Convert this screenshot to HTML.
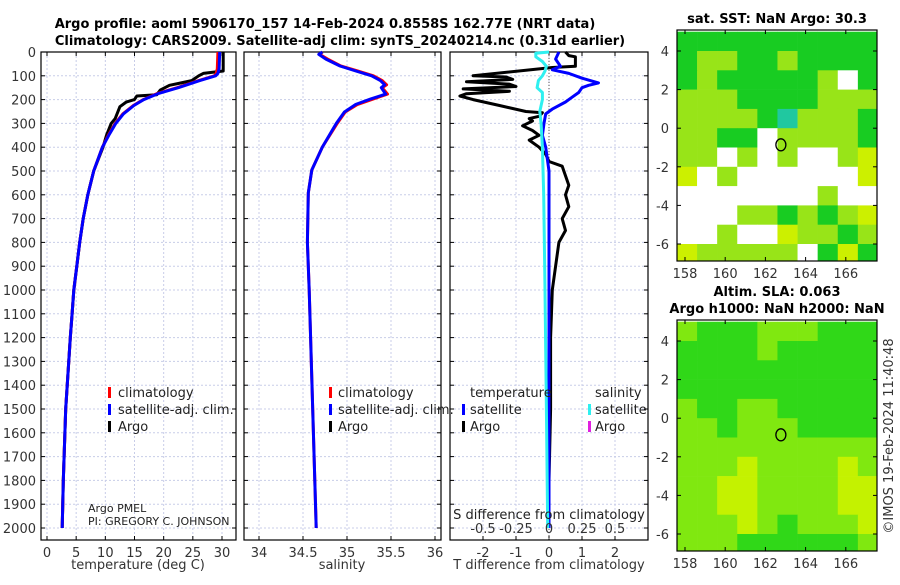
<!DOCTYPE html>
<html><head><meta charset="utf-8"><style>
body{margin:0;background:#fff;}
svg{font-family:"DejaVu Sans","Liberation Sans",sans-serif;}
</style></head><body>
<svg id="c" width="900" height="580" viewBox="0 0 900 580" xmlns="http://www.w3.org/2000/svg">
<text x="325" y="28" text-anchor="middle" font-size="13" font-weight="bold">Argo profile: aoml 5906170_157 14-Feb-2024 0.8558S 162.77E (NRT data)</text>
<text x="340" y="45" text-anchor="middle" font-size="13" font-weight="bold">Climatology: CARS2009. Satellite-adj clim: synTS_20240214.nc (0.31d earlier)</text>
<text x="777" y="23" text-anchor="middle" font-size="13" font-weight="bold">sat. SST: NaN Argo: 30.3</text>
<text x="777" y="296" text-anchor="middle" font-size="13" font-weight="bold">Altim. SLA: 0.063</text>
<text x="777" y="313" text-anchor="middle" font-size="13" font-weight="bold">Argo h1000: NaN h2000: NaN</text>
<text transform="translate(893,436) rotate(-90)" text-anchor="middle" font-size="13" fill="#333">©IMOS 19-Feb-2024 11:40:48</text>
</svg>
<script>
// ---------- data ----------
const depthTicks=[0,100,200,300,400,500,600,700,800,900,1000,1100,1200,1300,1400,1500,1600,1700,1800,1900,2000];
const tempTicks=[0,5,10,15,20,25,30];
const salTicks=[34,34.5,35,35.5,36];
const tdiffTicks=[-2,-1,0,1,2];
const sdiffTicks=[-0.5,-0.25,0,0.25,0.5];
const sdiffLabels=["-0.5","-0.25","0","0.25","0.5"];
const lonTicks=[158,160,162,164,166];
const latTicks=[4,2,0,-2,-4,-6];

const argoTD=[0,80,90,100,120,130,140,160,180,185,200,210,230,280,300,350,400,500,600,700,800,900,1000,1100,1200,1500,1800,2000];
const argoT=[30.2,30.2,26.8,26,24.8,23,21,19.4,18.8,15.4,15,13.6,12.5,11.7,11,10.2,9.6,8,7,6.2,5.6,5.1,4.6,4.3,4.0,3.2,2.8,2.6];
const climD=[0,70,90,100,120,150,175,200,225,260,300,350,400,500,600,700,800,900,1000,1100,1200,1500,1800,2000];
const climT=[29.3,29.2,29.0,28.7,26,22.3,18.8,16.5,14.8,13,11.7,10.5,9.5,8,7,6.2,5.6,5.1,4.6,4.3,4.0,3.2,2.8,2.6];
const satT=[29.6,29.5,29.3,28.9,26.2,22.5,19.0,16.6,14.9,13.1,11.8,10.6,9.5,8,7,6.2,5.6,5.1,4.6,4.3,4.0,3.2,2.8,2.6];
const salD=[0,10,30,59,80,100,120,138,150,177,197,220,252,299,399,496,592,800,1000,1500,2000];
const climS=[34.72,34.69,34.78,34.93,35.12,35.3,35.4,35.45,35.4,35.46,35.3,35.12,34.98,34.89,34.72,34.6,34.56,34.55,34.57,34.61,34.65];
const satS=[34.72,34.68,34.76,34.92,35.1,35.28,35.38,35.43,35.39,35.44,35.27,35.1,34.97,34.88,34.72,34.6,34.56,34.55,34.57,34.61,34.65];
const satTdD=[0,30,60,75,90,110,130,140,150,170,190,210,240,260,300,350,400,500,700,1000,1500,2000];
const satTd=[0.3,0.2,0.35,0.1,0.6,1.0,1.5,1.2,1.0,0.9,0.7,0.5,0.1,-0.1,-0.15,-0.2,-0.1,0.0,0.0,0.0,0.0,0.0];
const argoTdD=[0,15,20,60,65,100,105,115,125,135,145,155,165,175,185,200,225,250,255,270,280,290,310,330,350,370,400,430,460,480,520,560,600,650,700,750,800,900,1000,1200,1500,1800,2000];
const argoTd=[0.5,0.6,0.8,0.8,0.1,-2.3,-1.3,-1.1,-2.5,-1.2,-1.0,-2.6,-1.2,-2.5,-2.7,-2.3,-1.5,-0.7,-0.2,-0.3,-0.6,-0.5,-0.8,-0.5,-0.3,-0.6,-0.3,-0.1,0.0,0.4,0.5,0.6,0.5,0.6,0.4,0.5,0.3,0.2,0.1,0.05,0.05,0.0,0.0];
const satSdD=[0,5,20,40,60,80,100,120,150,170,200,250,300,400,600,1000,1500,2000];
const satSd=[0.0,-0.1,-0.1,-0.05,-0.02,-0.03,-0.05,-0.08,-0.09,-0.05,-0.05,-0.07,-0.06,-0.05,-0.04,-0.03,-0.02,-0.01];

const sstGrid=["gggggggggg","gllgglgggg","glggggglwg","lllgggglll","llllgtlllg","llggwllllg","llwlwlwwly","ywlwwwwwwy","wwwwwwwlww","wwwllglgly","wwlwwyllgl","ylllllwgyg"];
const slaGrid=["lggglllggg","gggglggggg","gggggggggg","gggggggggg","lggllggggg","llglllgggg","llllllllll","lllyllllyl","llyyllllyy","llyyllllyy","lllylgllly","lllggggggl"];

// ---------- helpers ----------
const svg=document.getElementById('c');
const NS="http://www.w3.org/2000/svg";
function mk(tag,attrs,parent){const e=document.createElementNS(NS,tag);for(const k in attrs)e.setAttribute(k,attrs[k]);(parent||svg).appendChild(e);return e;}
const Y0=52,Y1=540;
function yD(d){return Y0+d*(528-52)/2000;}
function panel(name,x0,x1,xs,ticks,labels){
  const g=mk('g',{});
  
  
  ticks.forEach((t,i)=>{const x=xs(t);
    const l=mk('line',{x1:x,x2:x,y1:Y0,y2:Y1,stroke:'#c8cde8','stroke-dasharray':'2,2'},g);
    
    mk('line',{x1:x,x2:x,y1:Y1,y2:Y1-4,stroke:'#000'},g);
    mk('line',{x1:x,x2:x,y1:Y0,y2:Y0+4,stroke:'#000'},g);
    if(labels){const t2=mk('text',{x:x,y:557,'text-anchor':'middle','font-size':'13',fill:'#333'},g);t2.textContent=labels[i];
      }
  });
  depthTicks.forEach(d=>{const y=yD(d);
    mk('line',{x1:x0,x2:x1,y1:y,y2:y,stroke:'#c8cde8','stroke-dasharray':'2,2'},g);
    mk('line',{x1:x0,x2:x0+4,y1:y,y2:y,stroke:'#000'},g);
    mk('line',{x1:x1,x2:x1-4,y1:y,y2:y,stroke:'#000'},g);
  });
  const r=mk('rect',{x:x0,y:Y0,width:x1-x0,height:Y1-Y0,fill:'none',stroke:'#000','stroke-width':1.2},g);
  
  return g;
}
function line(g,xs,xv,dv,color,w,name){
  const p=xv.map((v,i)=>xs(v).toFixed(1)+','+yD(dv[i]).toFixed(1)).join(' ');
  const e=mk('polyline',{points:p,fill:'none',stroke:color,'stroke-width':w,'stroke-linejoin':'round'},g);
  
  
}
function txt(x,y,s,opts,name){const e=mk('text',Object.assign({x:x,y:y,'font-size':'13',fill:'#222'},opts||{}));e.textContent=s;
  
  return e;}
function legMark(x,y,c,name){const e=mk('rect',{x:x,y:y-10,width:3,height:11,fill:c});
  
  }

depthTicks.forEach(d=>{txt(36,yD(d)+5,String(d),{'text-anchor':'end',fill:'#333'},'y-tick-label');});

// temperature panel
const xT=v=>47+v*(222-47)/30;
const gT=panel('temperature-panel',41,236,xT,tempTicks,tempTicks.map(String));
line(gT,xT,argoT,argoTD,'#000',3,'argo-temperature-line');
line(gT,xT,climT,climD,'#f00',3,'climatology-temperature-line');
line(gT,xT,satT,climD,'#00f',3,'satellite-temperature-line');
txt(138,569,'temperature (deg C)',{'text-anchor':'middle',fill:'#333'},'x-axis-title-temperature');
legMark(108,397,'#f00','legend-mark-climatology');txt(118,397,'climatology',{},'legend-climatology');
legMark(108,414,'#00f','legend-mark-satellite');txt(118,414,'satellite-adj. clim.',{},'legend-satellite-adj');
legMark(108,431,'#000','legend-mark-argo');txt(118,431,'Argo',{},'legend-argo');
txt(88,512,'Argo PMEL',{'font-size':'11'},'pi-institution');
txt(88,525,'PI: GREGORY C. JOHNSON',{'font-size':'11'},'pi-name');

// salinity panel
const xS=v=>259+(v-34)*88;
const gS=panel('salinity-panel',244,441,xS,salTicks,salTicks.map(String));
line(gS,xS,climS,salD,'#f00',3,'climatology-salinity-line');
line(gS,xS,satS,salD,'#00f',3,'satellite-salinity-line');
txt(342,569,'salinity',{'text-anchor':'middle',fill:'#333'},'x-axis-title-salinity');
legMark(329,397,'#f00','legend-mark-climatology-s');txt(338,397,'climatology',{},'legend-climatology-s');
legMark(329,414,'#00f','legend-mark-satellite-s');txt(338,414,'satellite-adj. clim.',{},'legend-satellite-s');
legMark(329,431,'#000','legend-mark-argo-s');txt(338,431,'Argo',{},'legend-argo-s');

// difference panel
const xTd=v=>549+v*33;
const xSd=v=>549+v*132;
const gD=panel('difference-panel',450,648,xTd,tdiffTicks,tdiffTicks.map(String));
mk('line',{x1:549,x2:549,y1:Y0,y2:Y1,stroke:'#555','stroke-dasharray':'1,2'},gD);
line(gD,xTd,argoTd,argoTdD,'#000',3,'argo-temperature-difference-line');
line(gD,xTd,satTd,satTdD,'#00f',3,'satellite-temperature-difference-line');
line(gD,xSd,satSd,satSdD,'#2ef0f0',3,'satellite-salinity-difference-line');
sdiffTicks.forEach((v,i)=>txt(xSd(v),533,sdiffLabels[i],{'text-anchor':'middle',fill:'#333'},'s-diff-tick-label'));
txt(549,519,'S difference from climatology',{'text-anchor':'middle'},'s-diff-axis-title');
txt(549,569,'T difference from climatology',{'text-anchor':'middle',fill:'#333'},'x-axis-title-t-diff');
txt(470,397,'temperature',{},'legend-header-temperature');
txt(595,397,'salinity',{},'legend-header-salinity');
legMark(462,414,'#00f','legend-mark-t-satellite');txt(470,414,'satellite',{},'legend-t-satellite');
legMark(462,431,'#000','legend-mark-t-argo');txt(470,431,'Argo',{},'legend-t-argo');
legMark(588,414,'#2ef0f0','legend-mark-s-satellite');txt(595,414,'satellite',{},'legend-s-satellite');
legMark(588,431,'#e020e0','legend-mark-s-argo');txt(595,431,'Argo',{},'legend-s-argo');

// maps
const sstColors={g:'#18cc22',l:'#98e418',y:'#ccf000',w:'#ffffff',t:'#20c8a0'};
const slaColors={g:'#30d818',l:'#80e810',y:'#c4f200',w:'#ffffff',t:'#20c8a0'};
function map(name,top,grid,colors){
  const x0=677,x1=877,y1=top+231;
  const lonX=v=>685+(v-158)*20.1;
  const latY=v=>top+21+(4-v)*19.3;
  const g=mk('g',{});
  
  
  const clip=mk('clipPath',{id:name+'-clip'},g);
  mk('rect',{x:x0,y:top,width:x1-x0,height:231},clip);
  const cg=mk('g',{'clip-path':'url(#'+name+'-clip)'},g);
  grid.forEach((row,r)=>{[...row].forEach((ch,c)=>{
    const lon=158+c, lat=5-r;
    const cell=mk('rect',{x:lonX(lon-0.4),y:latY(lat),width:20.4,height:19.6,fill:colors[ch]},cg);
    
    
  });});
  mk('rect',{x:x0,y:top,width:x1-x0,height:231,fill:'none',stroke:'#000','stroke-width':1.2},g);
  lonTicks.forEach(v=>{const x=lonX(v);mk('line',{x1:x,x2:x,y1:y1,y2:y1-4,stroke:'#000'},g);mk('line',{x1:x,x2:x,y1:top,y2:top+4,stroke:'#000'},g);
    txt(x,y1+17,String(v),{'text-anchor':'middle',fill:'#333'},'lon-tick-label');});
  latTicks.forEach(v=>{const y=latY(v);mk('line',{x1:x0,x2:x0+4,y1:y,y2:y,stroke:'#000'},g);mk('line',{x1:x1,x2:x1-4,y1:y,y2:y,stroke:'#000'},g);
    txt(x0-8,y+5,String(v),{'text-anchor':'end',fill:'#333'},'lat-tick-label');});
  const m=mk('ellipse',{cx:lonX(162.77),cy:latY(-0.86),rx:5,ry:6,fill:'none',stroke:'#000','stroke-width':1.3},g);
  
  
}
map('sst-map',30,sstGrid,sstColors);
map('sla-map',320,slaGrid,slaColors);
</script>
</body></html>
